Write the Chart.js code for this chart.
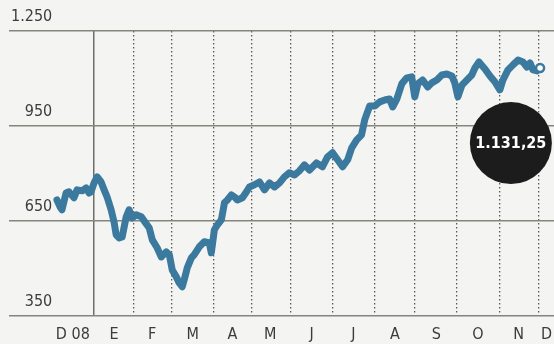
<!DOCTYPE html>
<html>
<head>
<meta charset="utf-8">
<script src="https://cdn.jsdelivr.net/npm/chart.js@4/dist/chart.umd.min.js"></script>
<style>
  html, body { margin: 0; padding: 0; background: #f4f4f2; }
  #wrap { width: 554px; height: 344px; position: relative; }
  canvas { display: block; }
</style>
</head>
<body>
<div id="wrap"><canvas id="c" width="554" height="344"></canvas></div>
<script>
// ---- DATA ----
// x = trading session index (0 = first session of January 2009)
const sessions = [
  -19.2,-17.6,-16.6,-14.5,-13.0,-10.4,-8.8,-6.2,-4.1,-2.6,
  -1.6,0,1.6,3.6,5.2,6.7,8.8,10.4,11.4,13.0,
  14.5,16.6,18.1,19.7,21.8,24.4,26.9,28.5,30.1,32.6,
  34.7,37.3,38.9,40.4,42.5,44.0,45.6,46.6,48.2,50.3,
  51.8,54.4,57.0,59.6,60.6,62.2,63.7,65.8,67.4,68.9,
  71.0,72.5,74.1,76.7,78.8,80.3,82.9,85.5,88.1,90.7,
  93.3,95.9,98.4,101.0,103.6,106.2,108.8,111.4,115.0,118.1,
  120.7,123.3,125.9,128.5,131.1,133.2,135.8,138.3,139.9,142.5,
  145.1,147.7,150.3,152.8,154.4,156.5,159.1,161.7,164.2,165.8,
  167.4,169.9,172.5,174.6,177.2,179.8,182.4,185.0,186.5,188.1,
  190.2,192.7,195.3,196.9,199.0,202.1,204.7,207.3,209.8,211.4,
  214.0,216.6,219.2,221.8,223.8,225.4,226.9,229.0,230.6
];
const indexValues = [
  716,694,685,738,742,723,748,745,754,738,
  742,770,789,773,748,726,685,644,606,596,
  599,663,685,659,669,663,641,628,590,565,
  536,552,543,495,473,454,442,464,502,533,
  543,568,584,580,549,622,637,653,707,716,
  732,726,716,723,742,757,764,773,748,770,
  757,770,789,802,795,808,827,811,833,821,
  852,865,843,821,843,881,906,922,969,1013,
  1013,1026,1032,1035,1010,1035,1083,1102,1105,1042,
  1083,1095,1073,1086,1095,1111,1114,1108,1086,1042,
  1079,1095,1111,1133,1152,1130,1108,1089,1064,1095,
  1127,1143,1158,1152,1136,1149,1127,1124,1133
];
// month boundaries (sessions): Jan 09 ... Dec 09
const janBoundary = [0];
const monthBoundaries = [20.5, 40, 62, 81.5, 101.5, 123.5, 145, 165.5, 187.5, 209.5, 230];
// month label positions (sessions) and labels
const monthLabelPos = [-11, 10.3, 30, 51, 71.5, 91, 112.5, 134, 155.5, 177, 198.5, 219.5, 234];
const monthLabels = ['D 08','E','F','M','A','M','J','J','A','S','O','N','D'];
// y ticks (figure/punctuation spaces keep the numbers right-aligned)
const yTickValues = [350, 650, 950, 1250];
const yTickLabels = ['\u2007\u2008350', '\u2007\u2008650', '\u2007\u2008950', '1.250'];
const xRange = [-44, 237.8];
const yRange = [350, 1250];
// callout
const lastValueLabel = '1.131,25';
const calloutPoint = [{ x: 215.5, y: 896 }];

// ---- CHART ----
const FONT = "'DejaVu Sans Condensed', 'Liberation Sans Narrow', 'DejaVu Sans', sans-serif";
const BLUE = '#3b7a9e';
const points = sessions.map((s, i) => ({ x: s, y: indexValues[i] }));
const lastIdx = points.length - 1;

const bgPlugin = {
  id: 'bg',
  beforeDraw(chart) {
    const ctx = chart.ctx;
    ctx.save();
    ctx.fillStyle = '#f4f4f2';
    ctx.fillRect(0, 0, chart.width, chart.height);
    ctx.restore();
  }
};
const calloutText = {
  id: 'calloutText',
  afterDatasetsDraw(chart) {
    const meta = chart.getDatasetMeta(1);
    const el = meta.data[0];
    if (!el) return;
    const ctx = chart.ctx;
    ctx.save();
    ctx.fillStyle = '#ffffff';
    ctx.font = "bold 16px " + FONT;
    ctx.textAlign = 'center';
    ctx.textBaseline = 'middle';
    ctx.fillText(lastValueLabel, el.x, el.y + 1);
    ctx.restore();
  }
};

function setTicks(values) {
  return (scale) => { scale.ticks = values.map(v => ({ value: v })); };
}

new Chart(document.getElementById('c'), {
  type: 'line',
  data: {
    datasets: [
      {
        data: points,
        xAxisID: 'x', yAxisID: 'y',
        borderColor: BLUE,
        borderWidth: 7,
        borderJoinStyle: 'round',
        borderCapStyle: 'round',
        tension: 0,
        fill: false,
        pointRadius: (c) => c.dataIndex === lastIdx ? 4 : 0,
        pointHoverRadius: 0,
        pointBackgroundColor: '#ffffff',
        pointBorderColor: BLUE,
        pointBorderWidth: 2.5,
        order: 2
      },
      {
        data: calloutPoint,
        xAxisID: 'x', yAxisID: 'y',
        showLine: false,
        pointRadius: 41,
        pointHoverRadius: 41,
        pointBackgroundColor: '#1c1c1c',
        pointBorderWidth: 0,
        order: 1
      }
    ]
  },
  options: {
    responsive: false,
    animation: false,
    devicePixelRatio: 1,
    layout: { autoPadding: false, padding: { left: 5, right: 0, top: 31, bottom: 0 } },
    plugins: { legend: { display: false }, tooltip: { enabled: false } },
    scales: {
      x: {
        type: 'linear', position: 'bottom',
        min: xRange[0], max: xRange[1],
        afterBuildTicks: setTicks(monthBoundaries),
        ticks: { display: false },
        grid: { display: true, drawTicks: false, color: '#5a5a55', lineWidth: 1.3 },
        border: { display: false, dash: [1.6, 2.4] }
      },
      xJan: {
        type: 'linear', position: 'bottom',
        min: xRange[0], max: xRange[1],
        afterBuildTicks: setTicks(janBoundary),
        ticks: { display: false },
        grid: { display: true, drawTicks: false, color: '#6e6e68', lineWidth: 1.5 },
        border: { display: false }
      },
      xLab: {
        type: 'linear', position: 'bottom',
        min: xRange[0], max: xRange[1],
        afterBuildTicks: setTicks(monthLabelPos),
        grid: { display: true, drawOnChartArea: false, drawTicks: true, tickLength: 9, tickColor: 'rgba(0,0,0,0)', color: 'rgba(0,0,0,0)' },
        border: { display: false },
        ticks: {
          autoSkip: false, maxRotation: 0, padding: 0,
          color: '#3c3c3a',
          font: { family: FONT, size: 16 },
          callback: (v, i) => monthLabels[i]
        }
      },
      y: {
        type: 'linear', position: 'left',
        min: yRange[0], max: yRange[1],
        afterBuildTicks: setTicks(yTickValues),
        grid: { display: true, drawTicks: false, color: '#85857d', lineWidth: 1.5 },
        border: { display: false },
        ticks: {
          mirror: true, padding: 2, labelOffset: -14,
          color: '#3c3c3a',
          font: { family: FONT, size: 16 },
          callback: (v, i) => yTickLabels[i]
        }
      }
    }
  },
  plugins: [bgPlugin, calloutText]
});
</script>
</body>
</html>
